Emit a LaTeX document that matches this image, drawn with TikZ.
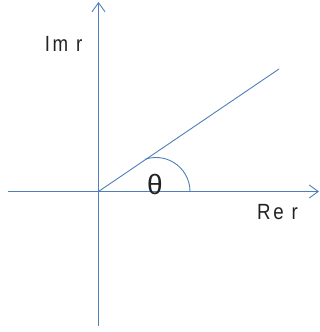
\documentclass[tikz,border=0pt]{standalone}
\usepackage{fontspec}
\usetikzlibrary{arrows.meta}
\newfontfamily\labfont[FakeStretch=0.85, LetterSpace=12]{Liberation Sans}
\newfontfamily\thetafont{Liberation Sans}
\definecolor{axisblue}{HTML}{4F7FBA}
\definecolor{labgray}{HTML}{222222}
\tikzset{
  axis/.style={draw=axisblue, line width=0.9pt, -{Straight Barb[length=9pt,width=13pt,line width=0.9pt]}},
  ray/.style={draw=axisblue, line width=0.9pt},
  lab/.style={inner sep=0pt, text=labgray, font=\labfont\fontsize{22}{22}\selectfont},
  thlab/.style={inner sep=0pt, text=labgray, font=\thetafont\fontsize{28}{28}\selectfont}
}
\begin{document}
\begin{tikzpicture}[x=1pt, y=-1pt]
  \useasboundingbox (0,0) rectangle (320,332);
  \coordinate (O) at (98.5,191.5);
  \coordinate (ytop) at (98.5,2);
  \coordinate (ybot) at (98.5,326);
  \coordinate (xleft) at (8,191.5);
  \coordinate (xright) at (319,191.5);
  \coordinate (rend) at (279,69);
  \coordinate (arcstart) at (190,191.5);
  \draw[axis] (ybot) -- (ytop);
  \draw[axis] (xleft) -- (xright);
  \draw[ray] (O) -- (rend);
  \draw[ray] (arcstart) arc[start angle=0, end angle=-109, radius=34];
  \node[lab] (im) at (63.5,44) {Im r};
  \node[lab] (re) at (277.5,212) {Re r};
  \node[thlab] (th) at (155,184.5) {θ};
\end{tikzpicture}
\end{document}
